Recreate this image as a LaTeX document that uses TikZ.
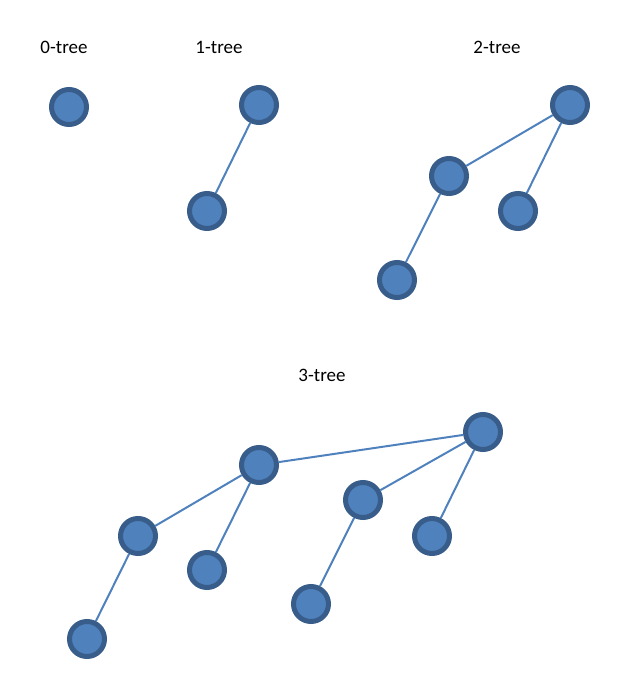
\documentclass[tikz,border=0pt]{standalone}
\usepackage{fontspec}
\setmainfont{Carlito}
\definecolor{nodefill}{HTML}{4F81BD}
\definecolor{nodeborder}{HTML}{385D8A}
\begin{document}
\begin{tikzpicture}[x=1pt,y=-1pt,
  tn/.style={circle,draw=nodeborder,fill=nodefill,line width=5pt,minimum size=35pt,inner sep=0pt},
  edge/.style={draw=nodefill,line width=2pt},
  lbl/.style={font=\fontsize{19}{22}\selectfont,text=black}]
\useasboundingbox (0,0) rectangle (623,685);
% labels
\node[lbl] (l0) at (64,47) {0-tree};
\node[lbl] (l1) at (219,47) {1-tree};
\node[lbl] (l2) at (497,47) {2-tree};
\node[lbl] (l3) at (322,375) {3-tree};
% 0-tree
\node[tn] (a0) at (69,107) {};
% 1-tree
\node[tn] (b0) at (259,105) {};
\node[tn] (b1) at (207,211) {};
% 2-tree
\node[tn] (c0) at (570,105) {};
\node[tn] (c1) at (449,176) {};
\node[tn] (c2) at (518,211) {};
\node[tn] (c3) at (397,280) {};
% 3-tree
\node[tn] (d0) at (483,432) {};
\node[tn] (d1) at (259,465) {};
\node[tn] (d2) at (363,500) {};
\node[tn] (d3) at (432,536) {};
\node[tn] (d4) at (138,536) {};
\node[tn] (d5) at (207,570) {};
\node[tn] (d6) at (311,604) {};
\node[tn] (d7) at (87,639) {};
\begin{scope}[on background layer/.try]
\end{scope}
% edges
\draw[edge] (b0) -- (b1);
\draw[edge] (c0) -- (c1);
\draw[edge] (c0) -- (c2);
\draw[edge] (c1) -- (c3);
\draw[edge] (d0) -- (d1);
\draw[edge] (d0) -- (d2);
\draw[edge] (d0) -- (d3);
\draw[edge] (d1) -- (d4);
\draw[edge] (d1) -- (d5);
\draw[edge] (d2) -- (d6);
\draw[edge] (d4) -- (d7);
\end{tikzpicture}
\end{document}
